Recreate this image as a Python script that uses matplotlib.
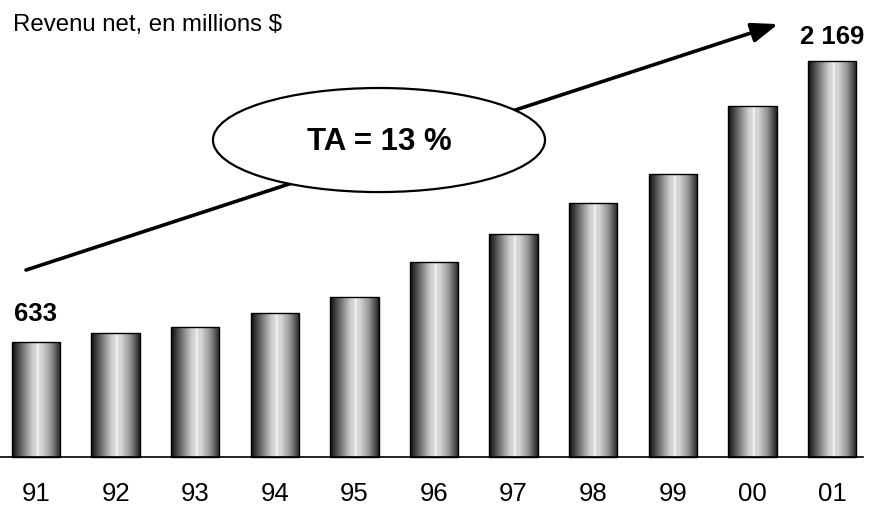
import numpy as np
import matplotlib.pyplot as plt
from matplotlib.patches import Ellipse, Rectangle

years = ['91', '92', '93', '94', '95', '96', '97', '98', '99', '00', '01']
revenu = [633, 679, 714, 789, 876, 1068, 1221, 1391, 1552, 1924, 2169]
first_label = '633'
last_label = '2 169'
title = 'Revenu net, en millions $'
cagr_label = 'TA = 13 %'

plt.rcParams['font.family'] = ['Liberation Sans', 'DejaVu Sans']

fig = plt.figure(figsize=(8.73, 5.07), dpi=100)
ax = fig.add_axes([0, 0, 1, 1])
ax.set_xlim(-0.452, 10.515)
ax.set_ylim(-272, 2505)
ax.axis('off')

# cylinder shading across the bar width
u = np.linspace(0, 1, 200)
shade = np.interp(u, [0, 0.04, 0.2, 0.42, 0.5, 0.53, 0.55, 0.62, 0.8, 0.96, 1.0],
                  [0.08, 0.12, 0.42, 0.8, 0.85, 1.0, 0.85, 0.83, 0.58, 0.22, 0.12])
grad = shade[np.newaxis, :]

x = np.arange(len(years))
width = 0.61
for xi, v in zip(x, revenu):
    x0 = xi - width / 2
    im = ax.imshow(grad, cmap='gray', vmin=0, vmax=1, aspect='auto',
                   extent=(x0, x0 + width, 0, v), interpolation='bilinear', zorder=2)
    rect = Rectangle((x0, 0), width, v, facecolor='none', edgecolor='black',
                     linewidth=1.0, zorder=3)
    ax.add_patch(rect)
    im.set_clip_path(rect)

# baseline
ax.plot([-0.452, 10.39], [0, 0], color='black', linewidth=1.2, zorder=4)

# year labels
for xi, lab in zip(x, years):
    ax.text(xi, -200, lab, ha='center', va='center', fontsize=18.5)

# value labels on first and last bars
ax.annotate(first_label, (x[0], revenu[0]), xytext=(0, 11), textcoords='offset points',
            ha='center', va='bottom', fontsize=18.5, fontweight='bold')
ax.annotate(last_label, (x[-1], revenu[-1]), xytext=(0, 9), textcoords='offset points',
            ha='center', va='bottom', fontsize=18.5, fontweight='bold')

# growth arrow
ax.annotate('', xy=(9.322, 2373), xytext=(-0.125, 1026),
            arrowprops=dict(arrowstyle='-|>,head_length=1.6,head_width=0.6',
                            color='black', linewidth=2.6, shrinkA=0, shrinkB=0),
            zorder=5)

ell = Ellipse((4.309, 1738), 4.171, 570, facecolor='white', edgecolor='black',
              linewidth=1.6, zorder=6)
ax.add_patch(ell)
ax.text(4.32, 1725, cagr_label, ha='center', va='center', fontsize=22.5,
        fontweight='bold', zorder=7)

fig.text(13 / 873, 1 - 31.5 / 507, title, ha='left', va='baseline', fontsize=17.3)

fig.savefig('out.png', dpi=100)
